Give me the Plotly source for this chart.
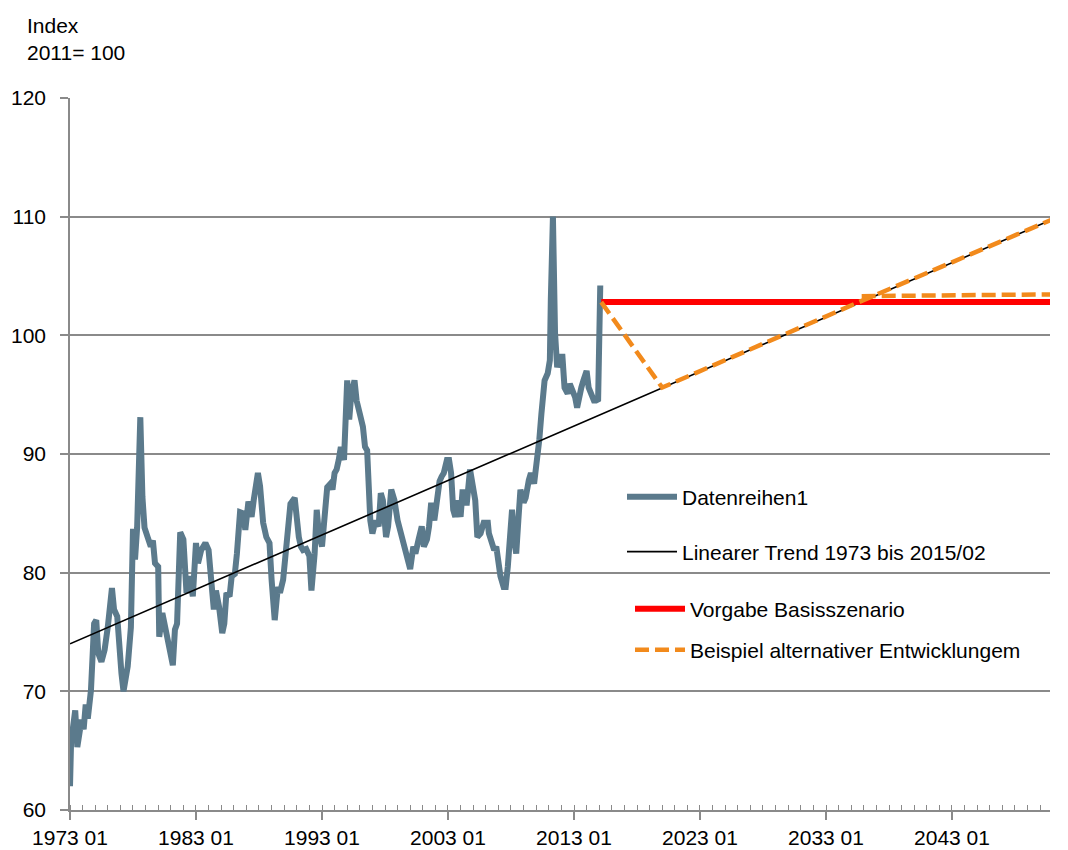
import plotly.graph_objects as go

# ---- data ----
series_dates = [
    "1973-01", "1973-02", "1973-06", "1973-08", "1973-12", "1974-02", "1974-04", "1974-06",
    "1974-09", "1974-12", "1975-02", "1975-04", "1975-07", "1975-10", "1976-01", "1976-05",
    "1976-07", "1976-10", "1977-02", "1977-04", "1977-08", "1977-11", "1978-01", "1978-03",
    "1978-05", "1978-08", "1978-10", "1978-12", "1979-03", "1979-06", "1979-08", "1979-10",
    "1980-01", "1980-02", "1980-05", "1980-08", "1980-12", "1981-03", "1981-05", "1981-07",
    "1981-10", "1982-01", "1982-04", "1982-07", "1982-10", "1983-01", "1983-03", "1983-06",
    "1983-10", "1984-01", "1984-03", "1984-06", "1984-08", "1984-11", "1985-02", "1985-04",
    "1985-06", "1985-09", "1985-11", "1986-02", "1986-04", "1986-07", "1986-10", "1986-12",
    "1987-03", "1987-06", "1987-08", "1987-12", "1988-02", "1988-05", "1988-08", "1988-11",
    "1989-01", "1989-04", "1989-07", "1989-09", "1989-12", "1990-03", "1990-07", "1990-11",
    "1991-01", "1991-03", "1991-05", "1991-07", "1991-10", "1992-01", "1992-03", "1992-06",
    "1992-08", "1992-10", "1993-01", "1993-03", "1993-06", "1993-09", "1993-11", "1994-01",
    "1994-03", "1994-05", "1994-07", "1994-10", "1995-01", "1995-03", "1995-05", "1995-08",
    "1995-10", "1996-01", "1996-04", "1996-06", "1996-08", "1996-11", "1997-01", "1997-04",
    "1997-07", "1997-09", "1997-11", "1998-02", "1998-04", "1998-07", "1998-10", "1999-01",
    "1999-04", "1999-07", "1999-10", "2000-01", "2000-04", "2000-06", "2000-09", "2000-12",
    "2001-02", "2001-05", "2001-07", "2001-09", "2001-12", "2002-02", "2002-05", "2002-07",
    "2002-09", "2002-12", "2003-02", "2003-04", "2003-06", "2003-08", "2003-10", "2004-01",
    "2004-03", "2004-05", "2004-07", "2004-10", "2005-01", "2005-03", "2005-05", "2005-08",
    "2005-11", "2006-03", "2006-04", "2006-07", "2006-09", "2006-11", "2007-01", "2007-03",
    "2007-06", "2007-08", "2007-10", "2007-12", "2008-02", "2008-04", "2008-06", "2008-08",
    "2008-10", "2009-01", "2009-03", "2009-06", "2009-08", "2009-11", "2010-02", "2010-04",
    "2010-06", "2010-07", "2010-09", "2010-12", "2011-02", "2011-03", "2011-05", "2011-07",
    "2011-09", "2011-11", "2012-02", "2012-04", "2012-07", "2012-09", "2012-12", "2013-02",
    "2013-04", "2013-06", "2013-08", "2013-10", "2014-01", "2014-03", "2014-05", "2014-08",
    "2014-10", "2014-12", "2015-02",
]
series_values = [
    62.0, 65.7, 68.4, 65.3, 67.6, 66.8, 68.9, 67.7,
    70.1, 75.7, 76.0, 73.2, 72.5, 73.5, 75.4, 78.7,
    76.9, 76.3, 71.5, 70.0, 72.1, 75.4, 83.7, 81.1,
    83.8, 93.1, 86.4, 83.8, 83.0, 82.2, 82.7, 80.8,
    80.5, 74.6, 76.6, 75.4, 73.8, 72.2, 75.2, 75.7,
    83.4, 82.8, 78.3, 79.7, 78.0, 82.5, 80.8, 81.9,
    82.5, 81.9, 79.9, 76.9, 78.5, 77.1, 74.9, 75.7,
    78.3, 78.0, 79.7, 79.9, 81.6, 85.1, 85.0, 83.6,
    86.0, 84.7, 86.1, 88.4, 87.3, 84.2, 83.0, 82.5,
    79.4, 76.0, 78.8, 78.3, 79.4, 81.9, 85.8, 86.3,
    84.4, 83.0, 82.2, 81.9, 82.0, 81.4, 78.5, 81.6,
    85.3, 83.3, 82.2, 83.9, 87.2, 87.5, 87.0, 88.4,
    88.7, 89.5, 90.6, 89.5, 96.2, 92.9, 95.1, 96.2,
    94.5, 93.4, 92.3, 90.6, 90.3, 84.4, 83.3, 84.4,
    83.9, 86.7, 86.1, 83.0, 83.9, 87.0, 86.1, 84.4,
    83.3, 82.5, 81.1, 80.3, 82.2, 81.6, 82.8, 83.9,
    82.2, 82.8, 83.9, 85.9, 84.4, 86.1, 87.7, 88.1,
    88.4, 89.5, 89.5, 88.4, 85.3, 84.7, 86.1, 84.7,
    87.0, 85.9, 85.9, 88.7, 86.7, 86.1, 83.0, 83.3,
    84.2, 84.2, 83.3, 82.2, 81.9, 82.2, 80.2, 79.7,
    78.8, 78.8, 80.5, 82.5, 85.3, 82.8, 81.6, 84.4,
    87.0, 85.9, 86.3, 87.8, 88.4, 87.5, 89.5, 91.2,
    93.4, 94.5, 96.2, 96.8, 97.9, 103.0, 110.0, 100.2,
    97.3, 98.2, 98.2, 95.6, 95.1, 95.9, 95.3, 94.8,
    93.9, 95.1, 95.6, 96.2, 97.0, 95.6, 95.1, 94.5,
    94.5, 94.6, 104.2,
]

trend_dates = ["1973-01", "2050-12"]
trend_values = [74.0, 109.75]

base_dates = ["2015-03", "2050-12"]
base_values = [102.8, 102.8]

alt_dates = ["2015-03", "2020-01", "2035-11", "2050-12", None, "2035-11", "2050-12"]
alt_values = [102.8, 95.6, 102.9, 109.75, None, 103.3, 103.45]

names = [
    "Datenreihen1",
    "Linearer Trend 1973 bis 2015/02",
    "Vorgabe Basisszenario",
    "Beispiel alternativer Entwicklungem",
]

FONT = "Liberation Sans, Arial, sans-serif"
GRID = "#8a8a8a"

fig = go.Figure()
fig.add_trace(go.Scatter(x=series_dates, y=series_values, mode="lines", name=names[0],
                         line=dict(color="#5b7a8c", width=6), legend="legend"))
fig.add_trace(go.Scatter(x=trend_dates, y=trend_values, mode="lines", name=names[1],
                         line=dict(color="#000000", width=1.6), legend="legend2"))
fig.add_trace(go.Scatter(x=base_dates, y=base_values, mode="lines", name=names[2],
                         line=dict(color="#ff0000", width=6), legend="legend3"))
fig.add_trace(go.Scatter(x=alt_dates, y=alt_values, mode="lines", name=names[3],
                         line=dict(color="#f28a1c", width=4.5, dash="14px,6px"),
                         connectgaps=False, legend="legend4"))

H0, H1 = 98, 810


def ypaper(py):
    return (H1 - py) / (H1 - H0)


leg_common = dict(bgcolor="rgba(0,0,0,0)", font=dict(family=FONT, size=21, color="#000"),
                  xanchor="left", yanchor="middle", itemwidth=50)

fig.update_layout(
    width=1068, height=850,
    margin=dict(l=70, r=18, t=98, b=40, autoexpand=False),
    paper_bgcolor="white", plot_bgcolor="white",
    font=dict(family=FONT, size=21, color="#000"),
    showlegend=True,
    legend=dict(x=(622 - 70) / 980, y=ypaper(497), **leg_common),
    legend2=dict(x=(622 - 70) / 980, y=ypaper(552), **leg_common),
    legend3=dict(x=(630 - 70) / 980, y=ypaper(609), **leg_common),
    legend4=dict(x=(630 - 70) / 980, y=ypaper(650), **leg_common),
    xaxis=dict(
        type="date", automargin=False,
        range=["1973-01-01", "2050-10-12"],
        tick0="1973-01-01", dtick="M120", tickformat="%Y %m",
        ticks="outside", ticklen=8, tickcolor=GRID, tickwidth=1.5,
        showline=True, linecolor=GRID, linewidth=1.5,
        showgrid=False, zeroline=False,
        tickfont=dict(family=FONT, size=21, color="#000"),
        minor=dict(ticks="inside", ticklen=5, tickcolor=GRID, tickwidth=1.2,
                   tick0="1973-01-01", dtick="M12", showgrid=False),
    ),
    yaxis=dict(
        automargin=False,
        range=[60, 120], dtick=10,
        ticks="outside", ticklen=8, tickcolor=GRID, tickwidth=1.5,
        showline=True, linecolor=GRID, linewidth=1.5,
        showgrid=True, gridcolor=GRID, gridwidth=1.5, zeroline=False,
        ticklabelstandoff=10,
        tickfont=dict(family=FONT, size=21, color="#000"),
    ),
    annotations=[
        dict(text="Index<br>2011= 100", xref="paper", yref="paper",
             x=(25 - 70) / 980, y=ypaper(12), xanchor="left", yanchor="top",
             align="left", showarrow=False,
             font=dict(family=FONT, size=21, color="#000")),
    ],
)

fig.write_html("out.html", config={"displayModeBar": False},
               post_script="document.body.style.margin='0px';document.body.style.padding='0px';")
